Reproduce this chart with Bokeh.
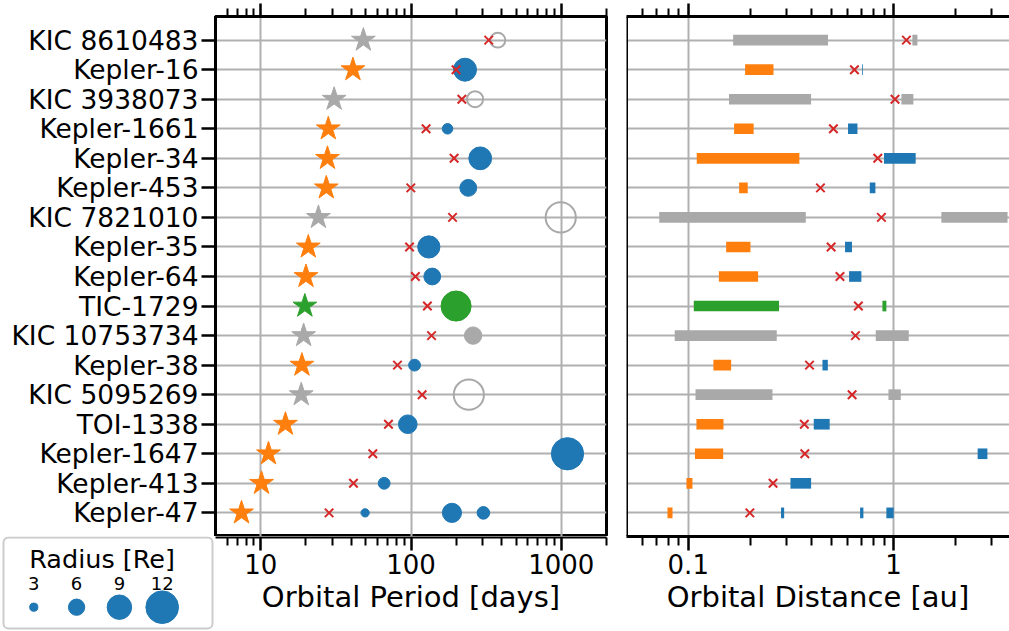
from bokeh.plotting import figure
from bokeh.models import (Range1d, FixedTicker, BasicTickFormatter, CustomJSTickFormatter,
                          Grid, Span, BoxAnnotation, LogAxis)
from bokeh.layouts import row, column
from bokeh.embed import file_html
from bokeh.resources import INLINE
from bokeh.core.properties import value

# ---------------- data ----------------
systems = ["KIC 8610483", "Kepler-16", "KIC 3938073", "Kepler-1661", "Kepler-34",
           "Kepler-453", "KIC 7821010", "Kepler-35", "Kepler-64", "TIC-1729",
           "KIC 10753734", "Kepler-38", "KIC 5095269", "TOI-1338", "Kepler-1647",
           "Kepler-413", "Kepler-47"]
status = ["candidate", "confirmed", "candidate", "confirmed", "confirmed",
          "confirmed", "candidate", "confirmed", "confirmed", "tic",
          "candidate", "confirmed", "candidate", "confirmed", "confirmed",
          "confirmed", "confirmed"]
binary_period = [48.2, 41.08, 30.8, 28.16, 27.8, 27.32, 24.2, 20.73, 20.0, 19.66,
                 19.3, 18.8, 18.6, 14.6, 11.26, 10.12, 7.45]
critical_period = [329, 199.5, 218, 126, 193.6, 99.7, 189, 97.8, 107, 128.6,
                   137, 81.3, 118.6, 70.8, 55.7, 41.4, 28.5]
binary_rmin = [0.1655, 0.1893, 0.158, 0.1673, 0.110, 0.177, 0.0722, 0.153, 0.141, 0.1064,
               0.0859, 0.1326, 0.1085, 0.1096, 0.1078, 0.0980, 0.0792]
binary_rmax = [0.480, 0.2603, 0.397, 0.2083, 0.348, 0.195, 0.374, 0.201, 0.219, 0.277,
               0.270, 0.1618, 0.2573, 0.1485, 0.148, 0.1048, 0.0838]
critical_distance = [1.157, 0.6457, 1.018, 0.510, 0.839, 0.441, 0.874, 0.497, 0.549, 0.675,
                     0.653, 0.390, 0.629, 0.368, 0.370, 0.259, 0.1996]

planet_host = ["KIC 8610483", "Kepler-16", "KIC 3938073", "Kepler-1661", "Kepler-34",
               "Kepler-453", "KIC 7821010", "Kepler-35", "Kepler-64", "TIC-1729",
               "KIC 10753734", "Kepler-38", "KIC 5095269", "TOI-1338", "Kepler-1647",
               "Kepler-413", "Kepler-47", "Kepler-47", "Kepler-47"]
planet_period = [378, 228.8, 267, 175, 288.8, 240.5, 992, 131.4, 138.5, 199.5,
                 259, 105.6, 242.6, 95.2, 1100, 66.26, 49.5, 187.3, 303.2]
planet_radius = [5.5, 8.45, 5.9, 3.87, 8.38, 6.2, 11.1, 8.16, 6.18, 11.07,
                 6.4, 4.35, 11.1, 6.85, 11.87, 4.35, 3.05, 7.04, 4.65]
planet_hollow = [True, False, True, False, False, False, True, False, False, False,
                 False, False, True, False, False, False, False, False, False]
planet_rmin = [1.237, 0.703, 1.094, 0.601, 0.900, 0.767, 1.713, 0.581, 0.608, 0.884,
               0.820, 0.451, 0.946, 0.409, 2.574, 0.3149, 0.2833, 0.688, 0.924]
planet_rmax = [1.309, 0.709, 1.251, 0.668, 1.284, 0.817, 3.60, 0.628, 0.698, 0.924,
               1.188, 0.479, 1.086, 0.489, 2.871, 0.397, 0.2934, 0.714, 1.003]

legend_title = "Radius [Re]"
legend_radii = [3, 6, 9, 12]

period_ticks = [10, 100, 1000]
period_minor = [6, 7, 8, 9, 20, 30, 40, 50, 60, 70, 80, 90,
                200, 300, 400, 500, 600, 700, 800, 900, 2000]
dist_ticks = [0.1, 1]
dist_minor = [0.06, 0.07, 0.08, 0.09, 0.2, 0.3, 0.4, 0.5, 0.6, 0.7, 0.8, 0.9, 2, 3]

# ---------------- style ----------------
FONT = "DejaVu Sans"
STAR_COLOR = {"confirmed": "#ff7f0e", "candidate": "#a9a9a9", "tic": "#2ca02c"}
PLANET_COLOR = {"confirmed": "#1f77b4", "candidate": "#a9a9a9", "tic": "#2ca02c"}
RED = "#d62728"
GRID = "#b0b0b0"
SIZE_PER_RE = 2.72

BORDER_LEFT, FRAME_W, GAP = 215, 391, 10
BORDER_TOP, FRAME_H, BORDER_BOTTOM = 16, 520, 95
TOTAL_W = 1009

n = len(systems)
ypos = [n - 1 - i for i in range(n)]
yof = dict(zip(systems, ypos))
stat_of = dict(zip(systems, status))
star_colors = [STAR_COLOR[s] for s in status]

planet_y = [yof[h] for h in planet_host]
planet_col = [PLANET_COLOR[stat_of[h]] for h in planet_host]
planet_size = [SIZE_PER_RE * r for r in planet_radius]

yr = Range1d(-0.8, n - 1 + 0.8)
xr_p = Range1d(5, 2000)
xr_d = Range1d(0.05, 3.68)


def style_ticks(ax, major_out, minor_out):
    ax.major_tick_in = 0
    ax.minor_tick_in = 0
    ax.major_tick_out = major_out
    ax.minor_tick_out = minor_out
    ax.major_tick_line_width = 2.5
    ax.minor_tick_line_width = 2
    ax.major_tick_line_color = "black"
    ax.minor_tick_line_color = "black"
    ax.axis_line_width = 3
    ax.axis_line_color = "black"


def blank_labels(ax):
    ax.formatter = CustomJSTickFormatter(code="return ''")
    ax.major_label_text_font_size = "0px"
    ax.major_label_standoff = 0


def text_labels(ax, title):
    ax.formatter = BasicTickFormatter()
    ax.major_label_text_font = FONT
    ax.major_label_text_font_size = "26px"
    ax.major_label_text_color = "black"
    ax.major_label_standoff = 3
    ax.axis_label = title
    ax.axis_label_text_font = FONT
    ax.axis_label_text_font_size = "29px"
    ax.axis_label_text_font_style = "normal"
    ax.axis_label_text_color = "black"
    ax.axis_label_standoff = 3


# ---------------- left panel (periods), frame + y labels ----------------
pA = figure(width=BORDER_LEFT + FRAME_W + GAP, height=BORDER_TOP + FRAME_H,
            x_range=xr_p, y_range=yr, x_axis_type="log", x_axis_location="above",
            toolbar_location=None, output_backend="svg",
            min_border_left=BORDER_LEFT, min_border_right=GAP,
            min_border_top=BORDER_TOP, min_border_bottom=0)
pA.outline_line_color = "black"
pA.outline_line_width = 3
pA.outline_line_alpha = 1

top = pA.xaxis[0]
top.ticker = FixedTicker(ticks=period_ticks, minor_ticks=period_minor)
style_ticks(top, 13, 8)
blank_labels(top)

ya = pA.yaxis[0]
ya.ticker = FixedTicker(ticks=ypos)
ya.major_label_overrides = {y: s for y, s in zip(ypos, systems)}
style_ticks(ya, 14, 0)
ya.minor_tick_line_color = None
ya.major_label_text_font = FONT
ya.major_label_text_font_size = "26.5px"
ya.major_label_text_color = "black"
ya.major_label_standoff = 3

pA.xgrid.grid_line_color = GRID
pA.xgrid.grid_line_width = 2
pA.ygrid.grid_line_color = GRID
pA.ygrid.grid_line_width = 2

pA.scatter(x=binary_period, y=ypos, marker="star", size=25, color=star_colors)

filled = [i for i, h in enumerate(planet_hollow) if not h]
hollow = [i for i, h in enumerate(planet_hollow) if h]
pA.scatter(x=[planet_period[i] for i in filled], y=[planet_y[i] for i in filled],
           size=[planet_size[i] for i in filled], marker="circle",
           fill_color=[planet_col[i] for i in filled], line_color=[planet_col[i] for i in filled])
pA.scatter(x=[planet_period[i] for i in hollow], y=[planet_y[i] for i in hollow],
           size=[planet_size[i] for i in hollow], marker="circle", fill_color=None,
           line_color=[planet_col[i] for i in hollow], line_width=2)
pA.scatter(x=critical_period, y=ypos, marker="x", size=12, line_color=RED, line_width=2)

# ---------------- left panel bottom axis (own strip) ----------------
pB = figure(width=FRAME_W + GAP, height=BORDER_BOTTOM, x_range=xr_p, y_range=Range1d(0, 1),
            x_axis_type="log", x_axis_location="below", y_axis_location=None,
            toolbar_location=None, output_backend="svg",
            min_border_left=0, min_border_right=GAP, min_border_top=0,
            min_border_bottom=BORDER_BOTTOM - 1)
pB.outline_line_color = None
pB.grid.visible = False
bx = pB.xaxis[0]
bx.ticker = FixedTicker(ticks=period_ticks, minor_ticks=period_minor)
style_ticks(bx, 13, 8)
bx.axis_line_width = 2
text_labels(bx, "Orbital Period [days]")

# ---------------- size legend (own strip under the labels) ----------------
pL = figure(width=BORDER_LEFT, height=BORDER_BOTTOM, x_range=Range1d(0, BORDER_LEFT),
            y_range=Range1d(BORDER_BOTTOM, 0), x_axis_location=None, y_axis_location=None,
            toolbar_location=None, output_backend="svg", min_border=0)
pL.outline_line_color = None
pL.grid.visible = False
pL.add_layout(BoxAnnotation(left=3, right=212, top=1, bottom=92, fill_color=None,
                            line_color="#cccccc", line_width=2, line_alpha=1,
                            border_radius=5, level="underlay"))
leg_x = [33.3 + 42.8 * i for i in range(len(legend_radii))]
pL.text(x=[101.6], y=[22], text=[legend_title], text_align="center",
        text_baseline="middle", text_font=value(FONT), text_font_size="25.5px",
        text_color="black")
pL.text(x=leg_x, y=[46.5] * len(legend_radii), text=[str(r) for r in legend_radii],
        text_align="center", text_baseline="middle", text_font=value(FONT),
        text_font_size="18px", text_color="black")
pL.scatter(x=leg_x, y=[70.7] * len(legend_radii),
           size=[SIZE_PER_RE * r for r in legend_radii], marker="circle", color="#1f77b4")

# ---------------- right panel (distances) ----------------
pR = figure(width=TOTAL_W - (BORDER_LEFT + FRAME_W + GAP),
            height=BORDER_TOP + FRAME_H + BORDER_BOTTOM,
            x_range=xr_d, y_range=yr, x_axis_type="log",
            x_axis_location="below", y_axis_location=None, toolbar_location=None,
            output_backend="svg", min_border_left=GAP, min_border_right=0,
            min_border_top=BORDER_TOP, min_border_bottom=BORDER_BOTTOM)
pR.outline_line_color = None
rx = pR.xaxis[0]
rx.ticker = FixedTicker(ticks=dist_ticks, minor_ticks=dist_minor)
style_ticks(rx, 14, 9)
text_labels(rx, "Orbital Distance [au]")
rtop = LogAxis(ticker=FixedTicker(ticks=dist_ticks, minor_ticks=dist_minor))
style_ticks(rtop, 13, 8)
blank_labels(rtop)
pR.add_layout(rtop, "above")
pR.xgrid.grid_line_color = GRID
pR.xgrid.grid_line_width = 2
pR.add_layout(Grid(dimension=1, ticker=FixedTicker(ticks=ypos), grid_line_color=GRID,
                   grid_line_width=2))
pR.add_layout(Span(location=xr_d.start, dimension="height", line_color="black", line_width=3))

pR.hbar(y=ypos, left=binary_rmin, right=binary_rmax, height=0.36,
        fill_color=star_colors, line_color=None)
pR.hbar(y=planet_y, left=planet_rmin, right=planet_rmax, height=0.36,
        fill_color=planet_col, line_color=None)
pR.scatter(x=critical_distance, y=ypos, marker="x", size=12, line_color=RED, line_width=2)

left_block = column(pA, row(column(pL), column(pB)))
layout = row(left_block, pR)
open("out.html", "w").write(file_html(layout, INLINE))
